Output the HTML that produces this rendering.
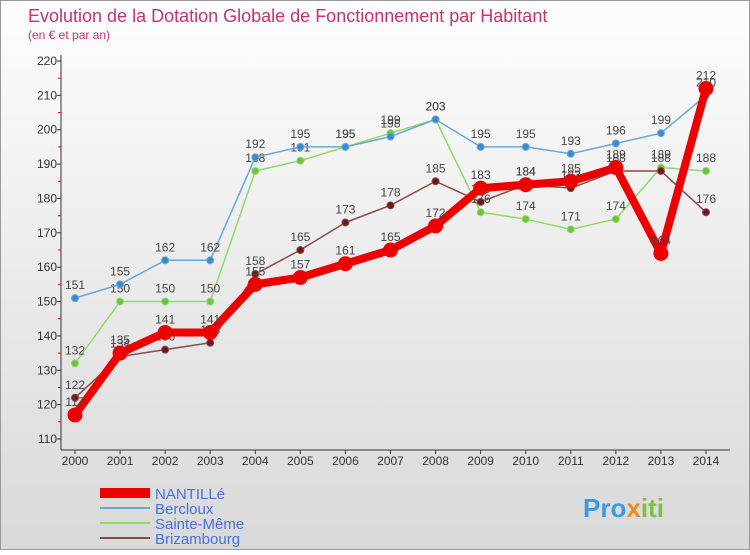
<!DOCTYPE html>
<html><head><meta charset="utf-8"><style>
body{margin:0;width:750px;height:550px;overflow:hidden;font-family:"Liberation Sans",sans-serif}
</style></head><body>
<svg id="c" width="750" height="550" xmlns="http://www.w3.org/2000/svg">
<defs><linearGradient id="bg" x1="0" y1="0" x2="0" y2="1"><stop offset="0" stop-color="#fdfdfd"/><stop offset="1" stop-color="#d9d9d9"/></linearGradient></defs>
<rect x="0.5" y="0.5" width="749" height="549" fill="url(#bg)" stroke="#999"/>
<text x="28" y="22" font-size="18" fill="#c8336a">Evolution de la Dotation Globale de Fonctionnement par Habitant</text>
<text x="28" y="39" font-size="12" fill="#c8336a">(en € et par an)</text>
<g id="axes"></g><g id="series"></g><g id="legend"></g>
<text x="583" y="517" font-size="26" font-weight="bold" fill="#3a9be0">Pro<tspan fill="#f08a1c">x</tspan><tspan fill="#7cc142">iti</tspan></text>
</svg>
<script>
const years=[2000,2001,2002,2003,2004,2005,2006,2007,2008,2009,2010,2011,2012,2013,2014];
const yTicks=[110,120,130,140,150,160,170,180,190,200,210,220];
const nantille=[117,135,141,141,155,157,161,165,172,183,184,185,189,164,212];
const bercloux=[151,155,162,162,192,195,195,198,203,195,195,193,196,199,210];
const sainteMeme=[132,150,150,150,188,191,195,199,203,176,174,171,174,189,188];
const brizambourg=[122,134,136,138,158,165,173,178,185,179,184,183,188,188,176];
const NS="http://www.w3.org/2000/svg";
const X=i=>75+i*(706-75)/14, Y=v=>439-(v-110)*(439-61)/110;
function mk(t,a,p){const e=document.createElementNS(NS,t);for(const k in a)e.setAttribute(k,a[k]);p.appendChild(e);return e;}
const ax=document.getElementById('axes');
const yl=mk('line',{x1:61,y1:55,x2:61,y2:450,stroke:'#333'},ax);


const xl=mk('line',{x1:61,y1:450,x2:730,y2:450,stroke:'#333'},ax);


yTicks.forEach(v=>{const t=mk('text',{x:57,y:Y(v)+4,'font-size':12,fill:'#333','text-anchor':'end'},ax);t.textContent=v;


mk('line',{x1:57,y1:Y(v),x2:61,y2:Y(v),stroke:'#333'},ax);
if(v<220)mk('line',{x1:58,y1:Y(v+5),x2:61,y2:Y(v+5),stroke:'#e00'},ax);});
years.forEach((y,i)=>{const t=mk('text',{x:X(i),y:465,'font-size':12,fill:'#333','text-anchor':'middle'},ax);t.textContent=y;


mk('line',{x1:X(i),y1:450,x2:X(i),y2:454,stroke:'#333'},ax);});
const S=document.getElementById('series');
function draw(d,col,w,r,name,dot){const g=mk('g',{},S);

mk('polyline',{points:d.map((v,i)=>X(i)+','+Y(v)).join(' '),fill:'none',stroke:col,'stroke-width':w,'stroke-linejoin':'round'},g);
d.forEach((v,i)=>{const c=mk('circle',{cx:X(i),cy:Y(v),r:r,fill:dot,stroke:col,'stroke-width':1},g);


const t=mk('text',{x:X(i),y:Y(v)-9,'font-size':12,fill:'#444','text-anchor':'middle'},g);t.textContent=v;

});}
draw(sainteMeme,'#8fd96a',1.5,3.5,'sainte-meme','#6cc43c');
draw(bercloux,'#6aa8d8',1.5,3.5,'bercloux','#3a8ad0');
draw(brizambourg,'#8a4a4a',1.5,3.5,'brizambourg','#6a1a1a');
draw(nantille,'#ee0000',8,7,'nantille','#ee0000');
const L=document.getElementById('legend');
[['NANTILLé','#ee0000',10],['Bercloux','#6aa8d8',2],['Sainte-Même','#8fd96a',2],['Brizambourg','#8a4a4a',2]].forEach((e,i)=>{
const y=493+i*15;const g=mk('g',{},L);

mk('line',{x1:100,y1:y,x2:150,y2:y,stroke:e[1],'stroke-width':e[2]},g);
const t=mk('text',{x:155,y:y+6,'font-size':15,fill:'#4a6fe0'},g);t.textContent=e[0];});
</script>
</body></html>
